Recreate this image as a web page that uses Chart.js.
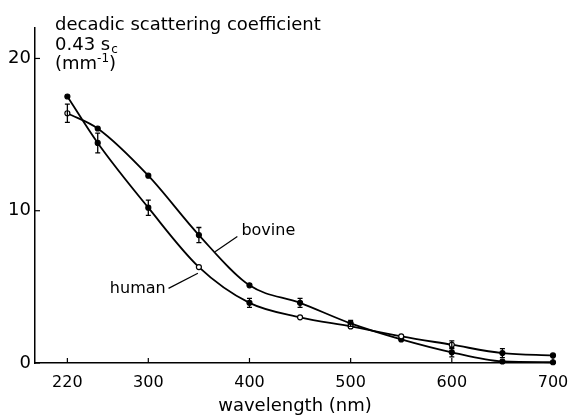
<!DOCTYPE html>
<html>
<head>
<meta charset="utf-8">
<script src="https://cdn.jsdelivr.net/npm/chart.js@4"></script>
<style>
  html, body { margin: 0; padding: 0; background: #fff; }
  #wrap { width: 571px; height: 417px; position: relative; }
</style>
</head>
<body>
<div id="wrap"><canvas id="myChart"></canvas></div>
<script>
// values
var wavelengths = [220, 250, 300, 350, 400, 450, 500, 550, 600, 650, 700];
var human = [17.5, 14.45, 10.2, 6.3, 3.95, 3.0, 2.4, 1.75, 1.2, 0.65, 0.5];
var bovine = [16.4, 15.4, 12.3, 8.4, 5.1, 3.95, 2.6, 1.55, 0.7, 0.1, 0.05];
var humanErr = [0, 0.65, 0.5, 0, 0.3, 0, 0, 0, 0.25, 0.3, 0];
var bovineErr = [0.6, 0, 0, 0.5, 0, 0.3, 0.2, 0, 0.3, 0, 0];
var xTicks = [220, 300, 400, 500, 600, 700];
var yTicks = [0, 10, 20];

// curve labels: [text, textX, textY, lineFromX, lineFromY, lineToX, lineToY] in data units
var curveLabels = [
    ['bovine', 392, 8.7, 388, 8.3, 366, 7.3],
    ['human', 262, 4.9, 320, 4.9, 349, 5.9]
];

var FONT = '"DejaVu Sans", sans-serif';

function points(ys) {
    return wavelengths.map(function (w, i) { return { x: w, y: ys[i] }; });
}

var figurePlugin = {
    id: 'figure',
    afterDatasetsDraw: function (chart) {
        var ctx = chart.ctx;
        var xs = chart.scales.x, ys = chart.scales.y;
        var area = chart.chartArea;
        ctx.save();
        ctx.strokeStyle = '#000';
        ctx.fillStyle = '#000';

        // error bars
        ctx.lineWidth = 1.3;
        [[human, humanErr], [bovine, bovineErr]].forEach(function (pair) {
            pair[0].forEach(function (v, i) {
                var e = pair[1][i];
                if (!e) return;
                var px = xs.getPixelForValue(wavelengths[i]);
                var top = ys.getPixelForValue(v + e);
                var bot = ys.getPixelForValue(v - e);
                ctx.beginPath();
                ctx.moveTo(px, top); ctx.lineTo(px, bot);
                ctx.moveTo(px - 2.5, top); ctx.lineTo(px + 2.5, top);
                ctx.moveTo(px - 2.5, bot); ctx.lineTo(px + 2.5, bot);
                ctx.stroke();
            });
        });

        // inward tick marks
        ctx.lineWidth = 1.2;
        xTicks.forEach(function (t) {
            var px = xs.getPixelForValue(t);
            ctx.beginPath();
            ctx.moveTo(px, area.bottom); ctx.lineTo(px, area.bottom - 5);
            ctx.stroke();
        });
        yTicks.forEach(function (t) {
            var py = ys.getPixelForValue(t);
            ctx.beginPath();
            ctx.moveTo(area.left, py); ctx.lineTo(area.left + 5, py);
            ctx.stroke();
        });

        // curve labels with leader lines
        ctx.font = '16px ' + FONT;
        ctx.textBaseline = 'middle';
        ctx.textAlign = 'left';
        curveLabels.forEach(function (l) {
            ctx.fillText(l[0], xs.getPixelForValue(l[1]), ys.getPixelForValue(l[2]));
            ctx.beginPath();
            ctx.moveTo(xs.getPixelForValue(l[3]), ys.getPixelForValue(l[4]));
            ctx.lineTo(xs.getPixelForValue(l[5]), ys.getPixelForValue(l[6]));
            ctx.stroke();
        });

        // y-axis title block, top left
        var tx = area.left + 20;
        ctx.textBaseline = 'alphabetic';
        ctx.font = '18px ' + FONT;
        ctx.fillText('decadic scattering coefficient', tx, 30);
        ctx.fillText('0.43 s', tx, 50);
        var w = ctx.measureText('0.43 s').width;
        ctx.font = '12px ' + FONT;
        ctx.fillText('c', tx + w + 1, 53);
        ctx.font = '18px ' + FONT;
        ctx.fillText('(mm', tx, 69);
        w = ctx.measureText('(mm').width;
        ctx.font = '12px ' + FONT;
        ctx.fillText('-1', tx + w, 62);
        var w2 = ctx.measureText('-1').width;
        ctx.font = '18px ' + FONT;
        ctx.fillText(')', tx + w + w2, 69);
        ctx.restore();
    }
};

var data = {
    datasets: [{
        label: 'human',
        data: points(human),
        borderColor: '#000',
        borderWidth: 1.8,
        cubicInterpolationMode: 'monotone',
        pointRadius: 2.5,
        pointBorderWidth: 1.2,
        pointBorderColor: '#000',
        pointBackgroundColor: ['#000', '#000', '#000', '#fff', '#000', '#fff', '#fff', '#fff', '#fff', '#000', '#000'],
        clip: 6
    }, {
        label: 'bovine',
        data: points(bovine),
        borderColor: '#000',
        borderWidth: 1.8,
        cubicInterpolationMode: 'monotone',
        pointRadius: 2.5,
        pointBorderWidth: 1.2,
        pointBorderColor: '#000',
        pointBackgroundColor: ['#fff', '#000', '#000', '#000', '#000', '#000', '#000', '#000', '#000', '#000', '#000'],
        clip: 6
    }]
};

var config = {
    type: 'line',
    data: data,
    options: {
        responsive: true,
        maintainAspectRatio: false,
        animation: false,
        events: [],
        layout: { padding: { top: 28, right: 16, left: 0, bottom: 0 } },
        plugins: { legend: { display: false }, tooltip: { enabled: false } },
        scales: {
            x: {
                type: 'linear',
                min: 188,
                max: 702,
                afterBuildTicks: function (scale) {
                    scale.ticks = xTicks.map(function (v) { return { value: v }; });
                },
                afterFit: function (scale) {
                    scale.height = 54;
                    scale.paddingLeft = 0;
                    scale.paddingRight = 0;
                },
                grid: { display: false, drawTicks: false },
                border: { display: true, color: '#000', width: 1.5 },
                ticks: { color: '#000', padding: 10, maxRotation: 0, font: { family: FONT, size: 16 } },
                title: {
                    display: true,
                    text: 'wavelength (nm)',
                    color: '#000',
                    padding: { top: 0, bottom: 0 },
                    font: { family: FONT, size: 18 }
                }
            },
            y: {
                min: 0,
                max: 22,
                afterBuildTicks: function (scale) {
                    scale.ticks = yTicks.map(function (v) { return { value: v }; });
                },
                afterFit: function (scale) {
                    scale.width = 35;
                    scale.paddingTop = 0;
                    scale.paddingBottom = 0;
                },
                grid: { display: false, drawTicks: false },
                border: { display: true, color: '#000', width: 1.5 },
                ticks: { color: '#000', padding: 4, font: { family: FONT, size: 18 } }
            }
        }
    },
    plugins: [figurePlugin]
};

var myChart = new Chart(document.getElementById('myChart'), config);
</script>
</body>
</html>
